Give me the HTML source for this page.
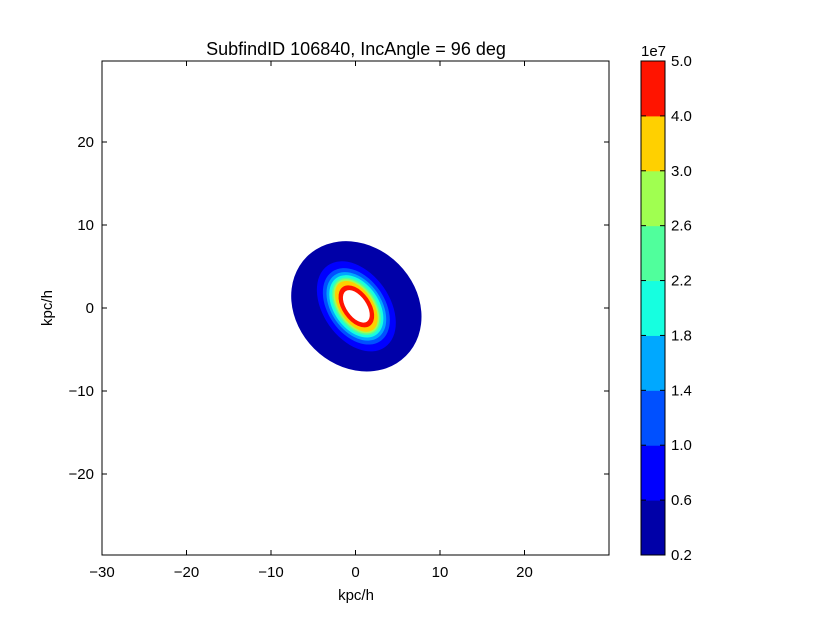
<!DOCTYPE html>
<html><head><meta charset="utf-8"><style>
body{margin:0;background:#fff;}
svg text{font-family:"Liberation Sans",sans-serif;fill:#000;}
</style></head><body>
<svg id="c" width="817" height="617" xmlns="http://www.w3.org/2000/svg"></svg>
<script>
const levels=[0.2,0.6,1.0,1.4,1.8,2.2,2.6,3.0,4.0,5.0];
const levelLabels=["0.2","0.6","1.0","1.4","1.8","2.2","2.6","3.0","4.0","5.0"];
const bandColors=["#0000a8","#0000ff","#0050ff","#00a8ff","#16ffe0","#50ff9c","#a0ff50","#ffd000","#ff1400"];
const semiA=[8.3,5.9,5.0,4.5,4.1,3.8,3.6,3.4,2.8,2.2];
const semiB=[7.2,4.0,3.4,3.0,2.7,2.4,2.2,2.0,1.7,1.2];
const xTicks=[-30,-20,-10,0,10,20];
const yTicks=[-20,-10,0,10,20];
const center=[0.1,0.2];
const NS="http://www.w3.org/2000/svg";
const svg=document.getElementById('c');
const X0=102,X1=609,Y0=61,Y1=555;
const xs=v=>X0+(v+30)/60*(X1-X0);
const ys=v=>308-v*8.3;
function mk(t,a){const e=document.createElementNS(NS,t);for(const k in a)e.setAttribute(k,a[k]);svg.appendChild(e);return e;}
let t=mk('text',{x:356,y:55,'font-size':18,'text-anchor':'middle'});t.textContent="SubfindID 106840, IncAngle = 96 deg";

// contours
const g=document.createElementNS(NS,'g');svg.appendChild(g);

for(let i=0;i<semiA.length;i++){
 const e=document.createElementNS(NS,'ellipse');
 const cx=xs(center[0]),cy=ys(center[1]);
 e.setAttribute('cx',cx);e.setAttribute('cy',cy);
 e.setAttribute('rx',semiA[i]*8.45);e.setAttribute('ry',semiB[i]*8.3);
 e.setAttribute('transform','rotate('+(i==0?45:55)+' '+cx+' '+cy+')');
 e.setAttribute('fill',i<bandColors.length?bandColors[i]:'#fff');
 
 
 g.appendChild(e);
}
let fr=mk('rect',{x:X0,y:Y0,width:X1-X0,height:Y1-Y0,fill:'none',stroke:'#000','stroke-width':1});

xTicks.forEach(v=>{const x=xs(v);
 mk('line',{x1:x,x2:x,y1:Y1,y2:Y1-5,stroke:'#000'});mk('line',{x1:x,x2:x,y1:Y0,y2:Y0+5,stroke:'#000'});
 const l=mk('text',{x:x,y:Y1+22,'font-size':15,'text-anchor':'middle'});l.textContent=(v<0?'\u2212':'')+Math.abs(v);
 });
yTicks.forEach(v=>{const y=ys(v);
 mk('line',{x1:X0,x2:X0+5,y1:y,y2:y,stroke:'#000'});mk('line',{x1:X1,x2:X1-5,y1:y,y2:y,stroke:'#000'});
 const l=mk('text',{x:X0-8,y:y+5,'font-size':15,'text-anchor':'end'});l.textContent=(v<0?'\u2212':'')+Math.abs(v);
 });
t=mk('text',{x:356,y:600,'font-size':15,'text-anchor':'middle'});t.textContent="kpc/h";

t=mk('text',{x:52,y:308,'font-size':15,'text-anchor':'middle',transform:'rotate(-90 52 308)'});t.textContent="kpc/h";

// colorbar
const CX=641,CW=24,n=bandColors.length,bh=(Y1-Y0)/n;
for(let i=0;i<n;i++){const r=mk('rect',{x:CX,y:Y1-(i+1)*bh,width:CW,height:bh+0.5,fill:bandColors[i]});
 }
const cf=mk('rect',{x:CX,y:Y0,width:CW,height:Y1-Y0,fill:'none',stroke:'#000'});

levelLabels.forEach((s,i)=>{const y=Y1-i*bh;
 mk('line',{x1:CX,x2:CX+5,y1:y,y2:y,stroke:'#000'});mk('line',{x1:CX+CW,x2:CX+CW-5,y1:y,y2:y,stroke:'#000'});
 const l=mk('text',{x:CX+CW+6,y:y+5,'font-size':15});l.textContent=s;
 });
t=mk('text',{x:641,y:56,'font-size':15});t.textContent="1e7";

</script>
</body></html>
